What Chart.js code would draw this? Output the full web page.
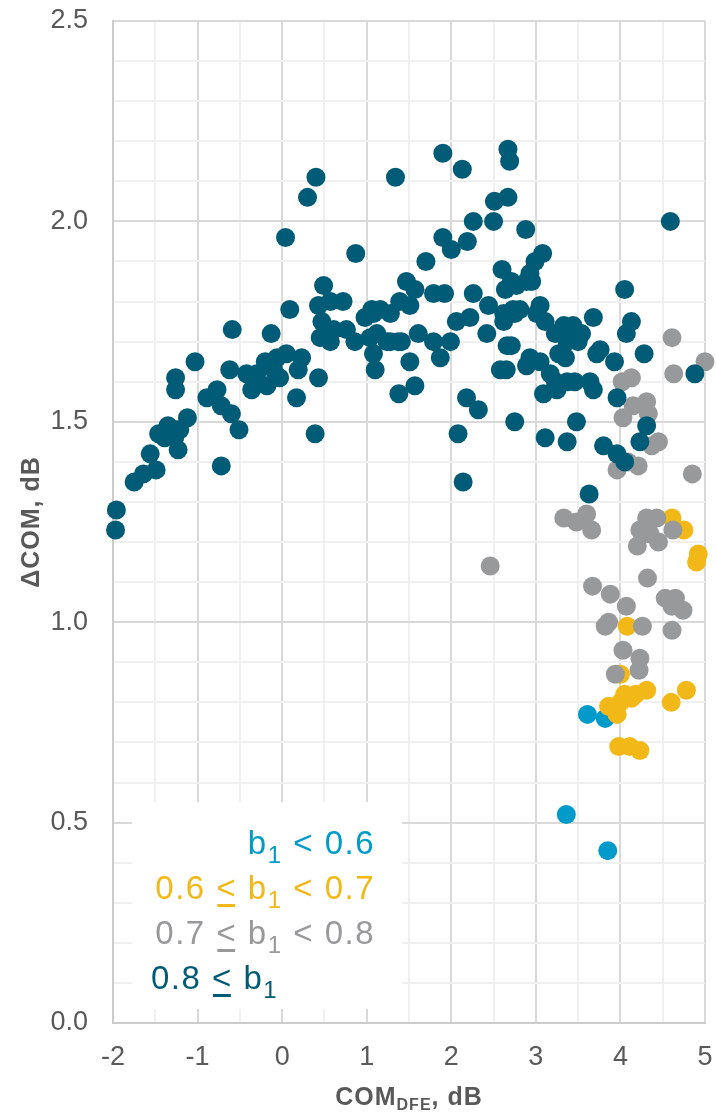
<!DOCTYPE html>
<html>
<head>
<meta charset="utf-8">
<script src="https://cdn.jsdelivr.net/npm/chart.js@4.4.1/dist/chart.umd.min.js"></script>
<style>
  html, body { margin: 0; padding: 0; background: #fff; }
  #wrap { width: 716px; height: 1112px; position: relative; }
</style>
</head>
<body>
<div id="wrap"><canvas id="chart-com"></canvas></div>
<script>
// points [COM_DFE, dCOM] par groupe de b1
const tealPoints = [
  [-1.97,1.23],[-1.96,1.28],[-1.75,1.35],[-1.64,1.37],[-1.49,1.38],[-1.56,1.42],[-1.23,1.43],
  [-1.46,1.47],[-1.35,1.49],[-1.25,1.48],[-1.12,1.51],[-1.39,1.46],[-1.27,1.46],[-1.21,1.48],
  [-1.26,1.61],[-1.26,1.58],[-1.03,1.65],[-0.72,1.39],[-0.89,1.56],[-0.77,1.58],[-0.72,1.54],
  [-0.60,1.52],[-0.51,1.48],[-0.62,1.63],[-0.59,1.73],
  [-0.42,1.62],[-0.36,1.58],[-0.30,1.62],[-0.18,1.59],[-0.20,1.65],[-0.10,1.63],[-0.03,1.61],
  [-0.06,1.66],[0.05,1.67],[0.19,1.63],[0.23,1.66],[0.17,1.56],
  [-0.13,1.72],[0.09,1.78],[0.39,1.47],[0.43,1.61],
  [0.04,1.96],[0.30,2.06],[0.40,2.11],
  [0.45,1.71],[0.57,1.70],[0.47,1.75],[0.43,1.79],[0.57,1.80],[0.72,1.80],[0.61,1.73],[0.76,1.73],
  [0.86,1.70],[0.98,1.76],[1.08,1.77],[1.12,1.72],[1.08,1.67],[1.10,1.63],[1.28,1.70],[1.41,1.70],
  [1.51,1.65],[1.57,1.59],[1.38,1.57],[1.61,1.72],[1.79,1.70],[1.87,1.66],[1.99,1.70],[2.06,1.75],
  [2.22,1.76],[2.42,1.72],[2.58,1.63],[2.08,1.47],[2.14,1.35],[2.18,1.56],[2.32,1.53],
  [0.49,1.84],[1.06,1.78],[1.16,1.78],[1.04,1.71],[1.28,1.77],[1.39,1.80],[1.47,1.85],[1.57,1.83],
  [1.51,1.79],[1.24,1.70],[1.37,1.70],
  [1.34,2.11],[1.90,2.17],[2.13,2.13],[2.67,2.18],[2.69,2.15],[2.51,2.05],[2.67,2.06],[2.26,2.00],
  [2.50,2.00],[1.90,1.96],[2.00,1.93],[2.19,1.95],[1.70,1.90],[0.87,1.92],[2.60,1.88],[2.71,1.85],
  [2.64,1.83],
  [1.79,1.82],[1.92,1.82],[2.26,1.82],[2.44,1.79],[2.62,1.77],[2.73,1.78],[2.71,1.69],[2.65,1.63],
  [2.75,1.50],
  [2.88,1.98],[3.08,1.92],[2.99,1.90],[2.93,1.87],[2.89,1.85],
  [4.59,2.00],[4.05,1.83],
  [2.77,1.84],[2.95,1.85],[2.62,1.75],[2.75,1.77],[2.81,1.78],[2.66,1.69],[3.05,1.79],[3.01,1.77],
  [3.11,1.75],[3.23,1.72],[3.33,1.74],[3.44,1.74],[3.54,1.72],[3.50,1.70],[3.37,1.70],[3.68,1.76],
  [3.27,1.67],[3.35,1.66],[2.93,1.66],[2.89,1.64],[3.05,1.65],[3.17,1.62],[3.23,1.60],[3.37,1.60],
  [3.46,1.60],[3.64,1.60],[3.72,1.67],[3.68,1.58],[3.76,1.68],[3.09,1.57],[3.25,1.58],[3.93,1.65],
  [3.96,1.56],
  [4.13,1.75],[4.07,1.72],[4.28,1.67],[4.88,1.62],[4.31,1.49],[4.23,1.45],[3.80,1.44],[3.96,1.42],
  [4.05,1.40],[3.63,1.32],[3.48,1.50],[3.37,1.45],[3.11,1.46]
];

const grayPoints = [
  [3.33,1.26],[3.48,1.25],[3.60,1.27],[3.66,1.23],[4.31,1.26],[4.43,1.26],[4.23,1.23],[4.35,1.22],
  [4.45,1.20],[4.20,1.19],[4.62,1.23],[4.32,1.11],[3.67,1.09],[3.88,1.07],[4.07,1.04],[3.86,1.00],
  [3.82,0.99],[4.26,0.99],[4.53,1.06],[4.65,1.06],[4.74,1.03],[4.61,1.04],[4.61,0.98],[4.03,0.93],
  [4.23,0.91],[4.22,0.88],[3.94,0.87],
  [4.61,1.71],[5.00,1.65],[4.63,1.62],[4.13,1.61],[4.02,1.60],[4.31,1.55],[4.15,1.54],[4.03,1.51],
  [4.33,1.52],[4.45,1.45],[4.37,1.44],[3.96,1.38],[4.21,1.39],[4.09,1.40],[4.85,1.37],[2.46,1.14]
];

const goldPoints = [
  [4.61,1.26],[4.75,1.23],[4.92,1.17],[4.90,1.15],[4.08,0.99],[4.00,0.87],[4.31,0.83],[4.05,0.82],
  [4.13,0.81],[3.86,0.79],[3.96,0.77],[4.18,0.82],[4.00,0.80],[4.78,0.83],[4.60,0.80],[3.98,0.69],
  [4.11,0.69],[4.23,0.68]
];

const bluePoints = [
  [3.36,0.52],[3.85,0.43],[3.61,0.77],[3.82,0.76]
];

const xMin = -2, xMax = 5, xStep = 0.5;
const yMin = 0, yMax = 2.5, yStep = 0.1;

const TEAL = "#005B76";
const GRAY = "#98999B";
const GOLD = "#F2B817";
const BLUE = "#009BCB";
const TXT = "#595959";

function toXY(points) {
  return points.map(p => ({ x: p[0], y: p[1] }));
}

// legende dessinee a la main (indices et "<" souligne)
const legendLines = [
  { color: BLUE, align: "right", parts: [{ t: "b" }, { t: "1", sub: true }, { t: " < 0.6" }] },
  { color: GOLD, align: "right", parts: [{ t: "0.6 " }, { t: "<", u: true }, { t: " b" }, { t: "1", sub: true }, { t: " < 0.7" }] },
  { color: GRAY, align: "right", parts: [{ t: "0.7 " }, { t: "<", u: true }, { t: " b" }, { t: "1", sub: true }, { t: " < 0.8" }] },
  { color: TEAL, align: "left", parts: [{ t: "0.8 " }, { t: "<", u: true }, { t: " b" }, { t: "1", sub: true }] }
];

function drawRich(ctx, parts, x, y, align, mainFont, subFont, subDy) {
  let total = 0;
  parts.forEach(p => {
    ctx.font = p.sub ? subFont : mainFont;
    total += ctx.measureText(p.t).width;
  });
  let cx = align === "right" ? x - total : (align === "center" ? x - total / 2 : x);
  parts.forEach(p => {
    ctx.font = p.sub ? subFont : mainFont;
    const w = ctx.measureText(p.t).width;
    ctx.fillText(p.t, cx, p.sub ? y + subDy : y);
    if (p.u) ctx.fillRect(cx + 1, y + 5, w - 3, 3);
    cx += w;
  });
}

const overlayPlugin = {
  id: "overlay",
  beforeDatasetsDraw(chart) {
    const ctx = chart.ctx;
    ctx.save();
    ctx.fillStyle = "#fff";
    ctx.fillRect(132, 802, 270, 207);
    ctx.textBaseline = "alphabetic";
    ctx.textAlign = "left";
    ctx.letterSpacing = "1.5px";
    legendLines.forEach((line, i) => {
      ctx.fillStyle = line.color;
      const y = 854 + i * 45;
      const x = line.align === "right" ? 375 : 151;
      drawRich(ctx, line.parts, x, y, line.align, "33px 'Liberation Sans'", "24px 'Liberation Sans'", 9);
    });
    ctx.restore();
  },
  afterDraw(chart) {
    const ctx = chart.ctx;
    const area = chart.chartArea;
    ctx.save();
    ctx.fillStyle = TXT;
    ctx.textAlign = "left";
    ctx.textBaseline = "alphabetic";
    ctx.letterSpacing = "1px";
    // titre axe x
    drawRich(ctx, [{ t: "COM" }, { t: "DFE", sub: true }, { t: ", dB" }],
      (area.left + area.right) / 2, 1105, "center",
      "bold 25px 'Liberation Sans'", "bold 16px 'Liberation Sans'", 5);
    // titre axe y
    ctx.translate(30, (area.top + area.bottom) / 2);
    ctx.rotate(-Math.PI / 2);
    drawRich(ctx, [{ t: "\u0394COM, dB" }], 0, 9, "center",
      "bold 25px 'Liberation Sans'", "bold 16px 'Liberation Sans'", 5);
    ctx.restore();
  }
};

const ctxCom = document.getElementById("chart-com").getContext("2d");

new Chart(ctxCom, {
  type: "scatter",
  data: {
    datasets: [
      { label: "0.8 <= b1", data: toXY(tealPoints), backgroundColor: TEAL },
      { label: "0.7 <= b1 < 0.8", data: toXY(grayPoints), backgroundColor: GRAY },
      { label: "0.6 <= b1 < 0.7", data: toXY(goldPoints), backgroundColor: GOLD },
      { label: "b1 < 0.6", data: toXY(bluePoints), backgroundColor: BLUE }
    ]
  },
  options: {
    responsive: true,
    maintainAspectRatio: false,
    animation: false,
    devicePixelRatio: 1,
    layout: { padding: { left: 0, top: 21, right: 11, bottom: 0 } },
    elements: {
      point: { radius: 9.5, hoverRadius: 9.5, borderWidth: 0, pointStyle: "circle" }
    },
    datasets: { scatter: { clip: false } },
    plugins: {
      legend: { display: false },
      tooltip: { enabled: false }
    },
    scales: {
      x: {
        type: "linear",
        min: xMin,
        max: xMax,
        afterFit(scale) {
          scale.height = 89;
          scale.paddingLeft = 0;
          scale.paddingRight = 0;
        },
        ticks: {
          stepSize: xStep,
          autoSkip: false,
          maxRotation: 0,
          padding: 18,
          color: TXT,
          font: { family: "'Liberation Sans'", size: 27 },
          callback: v => Number.isInteger(v) ? String(v) : ""
        },
        grid: {
          drawTicks: false,
          lineWidth: 2,
          color: c => Number.isInteger(c.tick.value) ? "#d9d9d9" : "#f0f0f0"
        },
        border: { color: "#cccccc", width: 2 }
      },
      y: {
        type: "linear",
        min: yMin,
        max: yMax,
        afterFit(scale) {
          scale.width = 113;
          scale.paddingTop = 0;
          scale.paddingBottom = 0;
        },
        ticks: {
          stepSize: yStep,
          autoSkip: false,
          padding: 25,
          color: TXT,
          font: { family: "'Liberation Sans'", size: 27 },
          callback: v => (Math.round(v * 10) % 5 === 0) ? v.toFixed(1) : ""
        },
        grid: {
          drawTicks: false,
          lineWidth: 2,
          color: c => (Math.round(c.tick.value * 10) % 5 === 0) ? "#d9d9d9" : "#f0f0f0"
        },
        border: { color: "#cccccc", width: 2 }
      }
    }
  },
  plugins: [overlayPlugin]
});
</script>
</body>
</html>
